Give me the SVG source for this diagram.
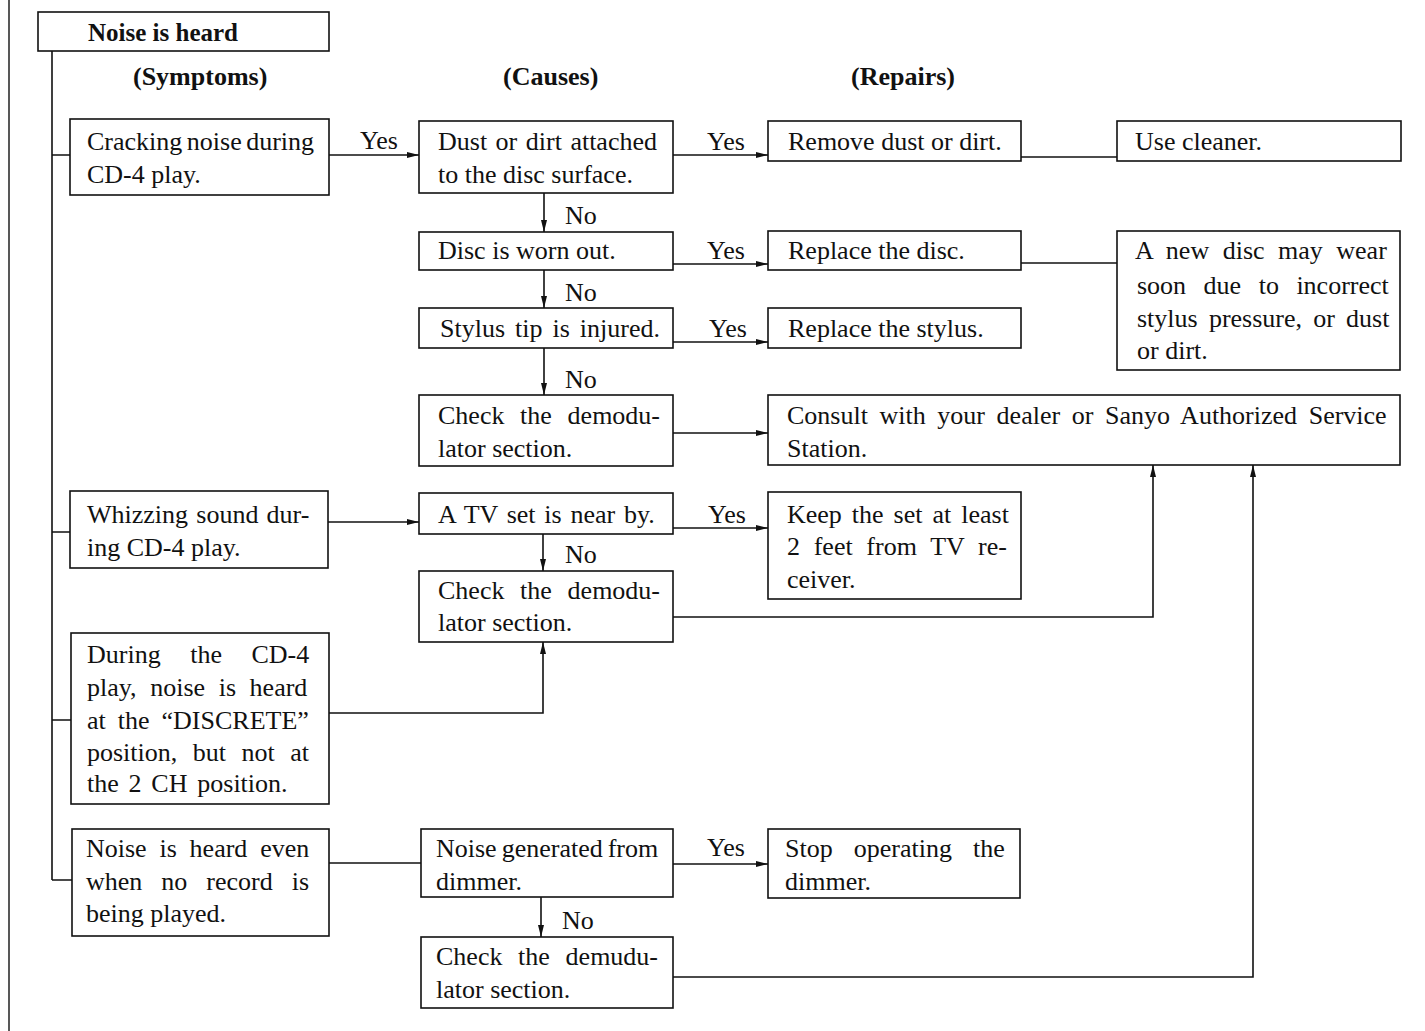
<svg xmlns="http://www.w3.org/2000/svg" width="1425" height="1031" viewBox="0 0 1425 1031">
<style>
.b{fill:#fff;stroke:#111;stroke-width:1.6}
.t{font-family:"Liberation Serif","Times New Roman",serif;font-size:26px;fill:#111}
.h{font-family:"Liberation Serif","Times New Roman",serif;font-size:26px;font-weight:bold;fill:#111}
.c{fill:none;stroke:#111;stroke-width:1.6}
.a{fill:none;stroke:#111;stroke-width:1.6;marker-end:url(#ah)}
</style>
<defs>
<marker id="ah" viewBox="0 0 12 8" refX="12" refY="4" markerWidth="12" markerHeight="8" markerUnits="userSpaceOnUse" orient="auto">
<path d="M0,1 L12,4 L0,7 Z" fill="#111"/>
</marker>
</defs>
<rect width="1425" height="1031" fill="#fff"/>
<line x1="9" y1="0" x2="9" y2="1031" stroke="#111" stroke-width="1.4"/>

<g id="connectors">
<path class="c" d="M52,51 V880 M52,155 H70 M52,532 H70 M52,720 H71 M52,880 H72"/>
<path class="a" d="M329,155 H419"/>
<path class="a" d="M673,155 H768"/>
<path class="c" d="M1021,157 H1117"/>
<path class="a" d="M544,193 V232"/>
<path class="a" d="M673,264 H768"/>
<path class="c" d="M1021,263 H1117"/>
<path class="a" d="M544,270 V308"/>
<path class="a" d="M673,342 H768"/>
<path class="a" d="M544,348 V395"/>
<path class="a" d="M673,433 H768"/>
<path class="a" d="M328,522 H419"/>
<path class="a" d="M673,528 H768"/>
<path class="a" d="M543,534 V571"/>
<path class="a" d="M673,617 H1153 V465"/>
<path class="a" d="M329,713 H543 V642"/>
<path class="c" d="M329,863 H421"/>
<path class="a" d="M673,864 H768"/>
<path class="a" d="M541,897 V937"/>
<path class="a" d="M673,977 H1253 V465"/>
</g>

<g id="labels">
<text class="h" x="133" y="85">(Symptoms)</text>
<text class="h" x="503" y="85">(Causes)</text>
<text class="h" x="851" y="85">(Repairs)</text>
<text class="t" x="360" y="149">Yes</text>
<text class="t" x="707" y="150">Yes</text>
<text class="t" x="707" y="259">Yes</text>
<text class="t" x="709" y="337">Yes</text>
<text class="t" x="708" y="523">Yes</text>
<text class="t" x="707" y="856">Yes</text>
<text class="t" x="565" y="224">No</text>
<text class="t" x="565" y="301">No</text>
<text class="t" x="565" y="388">No</text>
<text class="t" x="565" y="563">No</text>
<text class="t" x="562" y="929">No</text>
</g>

<g id="n-title"><rect class="b" x="38" y="12" width="291" height="39"/><text class="h" x="88" y="41" style="font-size:25px">Noise is heard</text></g>

<g id="n-cracking"><rect class="b" x="70" y="119" width="259" height="76"/>
<text class="t" x="87" y="150" style="word-spacing:-2px">Cracking noise during</text>
<text class="t" x="87" y="183">CD-4 play.</text></g>

<g id="n-dust"><rect class="b" x="419" y="121" width="254" height="72"/>
<text class="t" x="438" y="150" style="word-spacing:2px">Dust or dirt attached</text>
<text class="t" x="438" y="183">to the disc surface.</text></g>

<g id="n-remove"><rect class="b" x="768" y="121" width="253" height="40"/>
<text class="t" x="788" y="150">Remove dust or dirt.</text></g>

<g id="n-cleaner"><rect class="b" x="1117" y="121" width="284" height="40"/>
<text class="t" x="1135" y="150">Use cleaner.</text></g>

<g id="n-worn"><rect class="b" x="419" y="232" width="254" height="38"/>
<text class="t" x="438" y="259">Disc is worn out.</text></g>

<g id="n-replace-disc"><rect class="b" x="768" y="231" width="253" height="39"/>
<text class="t" x="788" y="259">Replace the disc.</text></g>

<g id="n-newdisc"><rect class="b" x="1117" y="231" width="283" height="139"/>
<text class="t" x="1135" y="259" style="word-spacing:7px">A new disc may wear</text>
<text class="t" x="1137" y="294" style="word-spacing:11px">soon due to incorrect</text>
<text class="t" x="1137" y="327" style="word-spacing:4.7px">stylus pressure, or dust</text>
<text class="t" x="1137" y="359">or dirt.</text></g>

<g id="n-stylus"><rect class="b" x="419" y="308" width="254" height="40"/>
<text class="t" x="440" y="337" style="word-spacing:3.5px">Stylus tip is injured.</text></g>

<g id="n-replace-stylus"><rect class="b" x="768" y="308" width="253" height="40"/>
<text class="t" x="788" y="337">Replace the stylus.</text></g>

<g id="n-check1"><rect class="b" x="419" y="395" width="254" height="71"/>
<text class="t" x="438" y="424" style="word-spacing:9.2px">Check the demodu-</text>
<text class="t" x="438" y="457">lator section.</text></g>

<g id="n-consult"><rect class="b" x="768" y="395" width="632" height="70"/>
<text class="t" x="787" y="424" style="word-spacing:5.1px">Consult with your dealer or Sanyo Authorized Service</text>
<text class="t" x="787" y="457">Station.</text></g>

<g id="n-whizzing"><rect class="b" x="70" y="491" width="258" height="77"/>
<text class="t" x="87" y="523" style="word-spacing:1.7px">Whizzing sound dur-</text>
<text class="t" x="87" y="556">ing CD-4 play.</text></g>

<g id="n-tv"><rect class="b" x="419" y="493" width="254" height="41"/>
<text class="t" x="438" y="523" style="word-spacing:2.3px">A TV set is near by.</text></g>

<g id="n-keep"><rect class="b" x="768" y="492" width="253" height="107"/>
<text class="t" x="787" y="523" style="word-spacing:3.5px">Keep the set at least</text>
<text class="t" x="787" y="555" style="word-spacing:7.2px">2 feet from TV re-</text>
<text class="t" x="787" y="588">ceiver.</text></g>

<g id="n-check2"><rect class="b" x="419" y="571" width="254" height="71"/>
<text class="t" x="438" y="599" style="word-spacing:9.2px">Check the demodu-</text>
<text class="t" x="438" y="631">lator section.</text></g>

<g id="n-during"><rect class="b" x="71" y="633" width="258" height="171"/>
<text class="t" x="87" y="663" style="word-spacing:23px">During the CD-4</text>
<text class="t" x="87" y="696" style="word-spacing:7.1px">play, noise is heard</text>
<text class="t" x="87" y="729" style="word-spacing:5.5px">at the “DISCRETE”</text>
<text class="t" x="87" y="761" style="word-spacing:9px">position, but not at</text>
<text class="t" x="87" y="792" style="word-spacing:3.3px">the 2 CH position.</text></g>

<g id="n-even"><rect class="b" x="72" y="829" width="257" height="107"/>
<text class="t" x="86" y="857" style="word-spacing:6.3px">Noise is heard even</text>
<text class="t" x="86" y="890" style="word-spacing:12.5px">when no record is</text>
<text class="t" x="86" y="922">being played.</text></g>

<g id="n-dimmer"><rect class="b" x="421" y="829" width="252" height="68"/>
<text class="t" x="436" y="857" style="word-spacing:-1.5px">Noise generated from</text>
<text class="t" x="436" y="890">dimmer.</text></g>

<g id="n-stop"><rect class="b" x="768" y="829" width="252" height="69"/>
<text class="t" x="785" y="857" style="word-spacing:14.6px">Stop operating the</text>
<text class="t" x="785" y="890">dimmer.</text></g>

<g id="n-check3"><rect class="b" x="421" y="937" width="252" height="71"/>
<text class="t" x="436" y="965" style="word-spacing:9.2px">Check the demudu-</text>
<text class="t" x="436" y="998">lator section.</text></g>
</svg>
